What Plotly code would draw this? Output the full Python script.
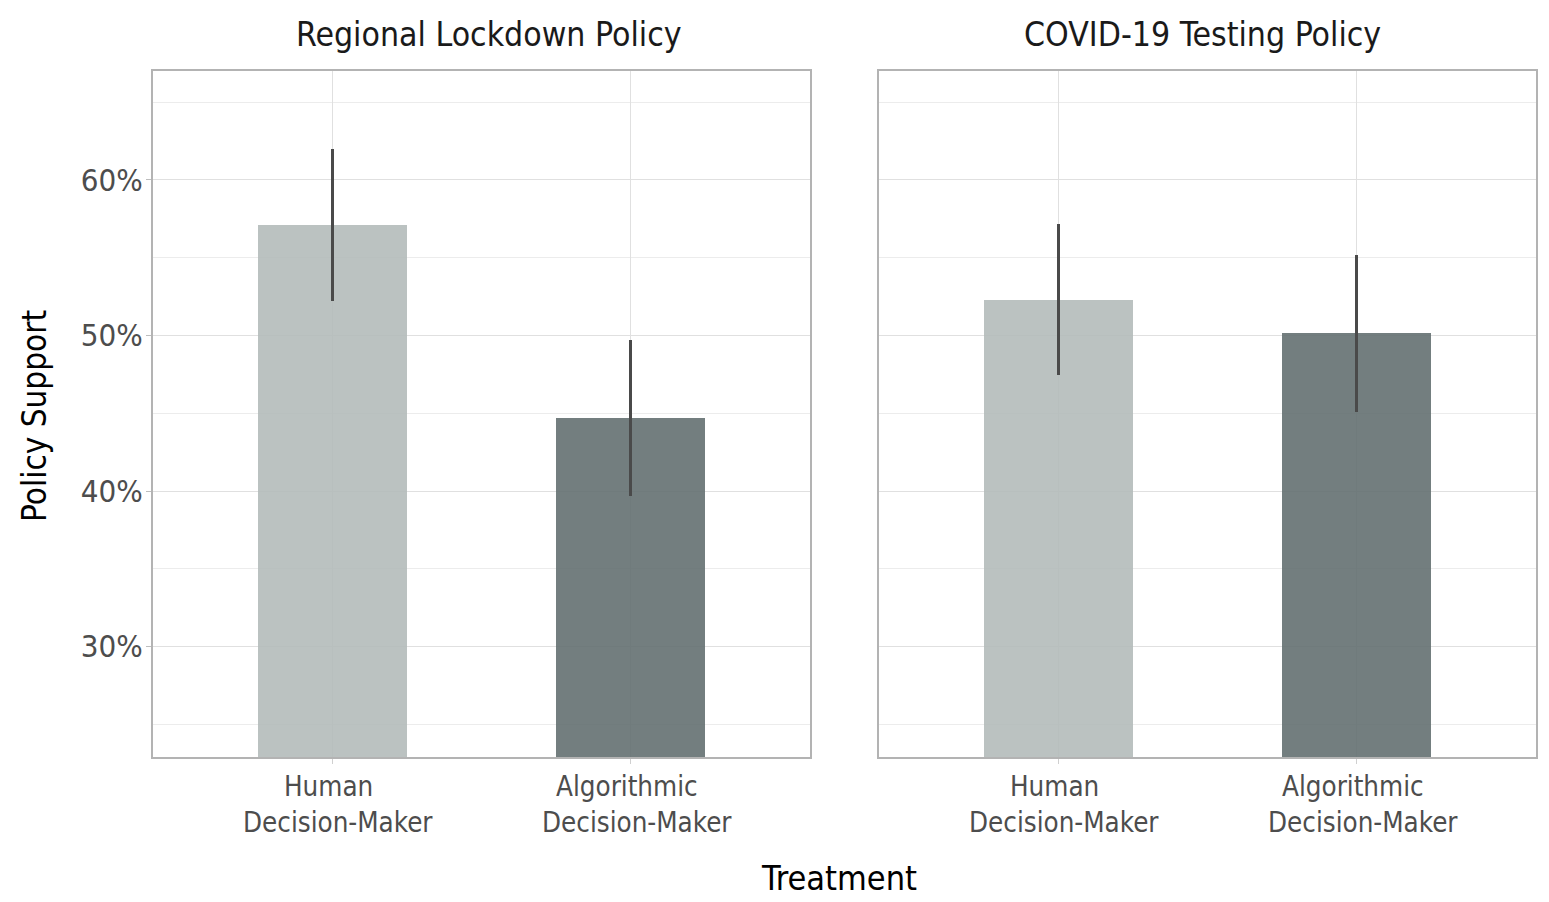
import plotly.graph_objects as go

# Data: share of respondents supporting each policy, with 95% confidence bounds
panels = ["Regional Lockdown Policy", "COVID-19 Testing Policy"]
treatments = ["Human\nDecision-Maker", "Algorithmic\nDecision-Maker"]
support_lockdown = [0.5711, 0.4467]
lower_lockdown = [0.5223, 0.3968]
upper_lockdown = [0.6199, 0.4968]
support_testing = [0.5231, 0.5013]
lower_testing = [0.4743, 0.4505]
upper_testing = [0.5717, 0.5514]
y_ticks = [0.3, 0.4, 0.5, 0.6]

W, H = 1549, 902
FONT = "DejaVu Sans Condensed, DejaVu Sans, sans-serif"
bar_colors = ["rgba(180,187,186,0.9)", "rgba(100,112,113,0.9)"]
y_range = [0.229, 0.670]

# panel placement in pixels (left, right), shared top/bottom
panel_px = [(153, 810), (879, 1536)]
title_nudge_px = [7, -5]
label_line_nudge_px = [-4, 6]
top_px, bottom_px = 71, 757

fig = go.Figure()
series = [
    (support_lockdown, lower_lockdown, upper_lockdown),
    (support_testing, lower_testing, upper_testing),
]
for i, (vals, lo, hi) in enumerate(series):
    xa = "x" if i == 0 else "x2"
    ya = "y" if i == 0 else "y2"
    fig.add_trace(go.Bar(
        x=[0, 1], y=vals, width=0.5,
        marker=dict(color=bar_colors, line=dict(width=0)),
        error_y=dict(type="data", symmetric=False,
                     array=[h - v for h, v in zip(hi, vals)],
                     arrayminus=[v - l for v, l in zip(vals, lo)],
                     width=0, thickness=3, color="#4A4A4A"),
        xaxis=xa, yaxis=ya, showlegend=False, hoverinfo="skip",
    ))

axis_common = dict(showline=True, mirror=True, linecolor="#B3B3B3", linewidth=2,
                   showgrid=True, gridcolor="#E0E0E0", gridwidth=1, zeroline=False)

for i, (l, r) in enumerate(panel_px):
    sfx = "" if i == 0 else "2"
    fig.layout["xaxis" + sfx] = dict(
        axis_common, domain=[l / W, r / W], range=[-0.6, 1.6],
        tickvals=[0, 1], ticktext=["", ""], ticks="outside", ticklen=5,
        tickcolor="#D0D0D0", tickwidth=1,
        anchor="y" + sfx,
    )
    fig.layout["yaxis" + sfx] = dict(
        axis_common, domain=[1 - bottom_px / H, 1 - top_px / H], range=y_range,
        tickvals=y_ticks, tickformat=".0%",
        showticklabels=(i == 0), ticks="outside" if i == 0 else "",
        ticklen=5, tickcolor="#BDBDBD", tickwidth=1, ticklabelstandoff=-3,
        tickfont=dict(family=FONT, size=31, color="#4D4D4D"),
        minor=dict(dtick=0.05, tick0=0.25, showgrid=True, gridcolor="#ECECEC", gridwidth=1),
        anchor="x" + sfx,
    )

annotations = []
for i, (l, r) in enumerate(panel_px):
    # panel title
    annotations.append(dict(
        text=panels[i], xref="paper", yref="paper",
        x=((l + r) / 2 + title_nudge_px[i]) / W,
        y=1 - 34 / H, xanchor="center", yanchor="middle", showarrow=False,
        font=dict(family=FONT, size=33.5, color="#1A1A1A"),
    ))
    # two-line category labels under each panel
    xa = "x" if i == 0 else "x2"
    for j, label in enumerate(treatments):
        for k, line in enumerate(label.split("\n")):
            annotations.append(dict(
                text=line, xref=xa, yref="paper", x=j, y=1 - (786 + 36 * k) / H,
                xanchor="center", yanchor="middle", showarrow=False,
                xshift=label_line_nudge_px[k],
                font=dict(family=FONT, size=27.5, color="#4D4D4D"),
            ))

annotations.append(dict(
    text="Treatment", xref="paper", yref="paper", x=839 / W, y=1 - 878 / H,
    xanchor="center", yanchor="middle", showarrow=False,
    font=dict(family=FONT, size=34, color="#000000"),
))
annotations.append(dict(
    text="Policy Support", xref="paper", yref="paper", x=34 / W, y=1 - 416 / H,
    xanchor="center", yanchor="middle", showarrow=False, textangle=-90,
    font=dict(family=FONT, size=33, color="#000000"),
))

fig.update_layout(
    width=W, height=H, margin=dict(l=0, r=0, t=0, b=0),
    paper_bgcolor="white", plot_bgcolor="white",
    annotations=annotations, bargap=0,
)

fig.write_html("out.html")
